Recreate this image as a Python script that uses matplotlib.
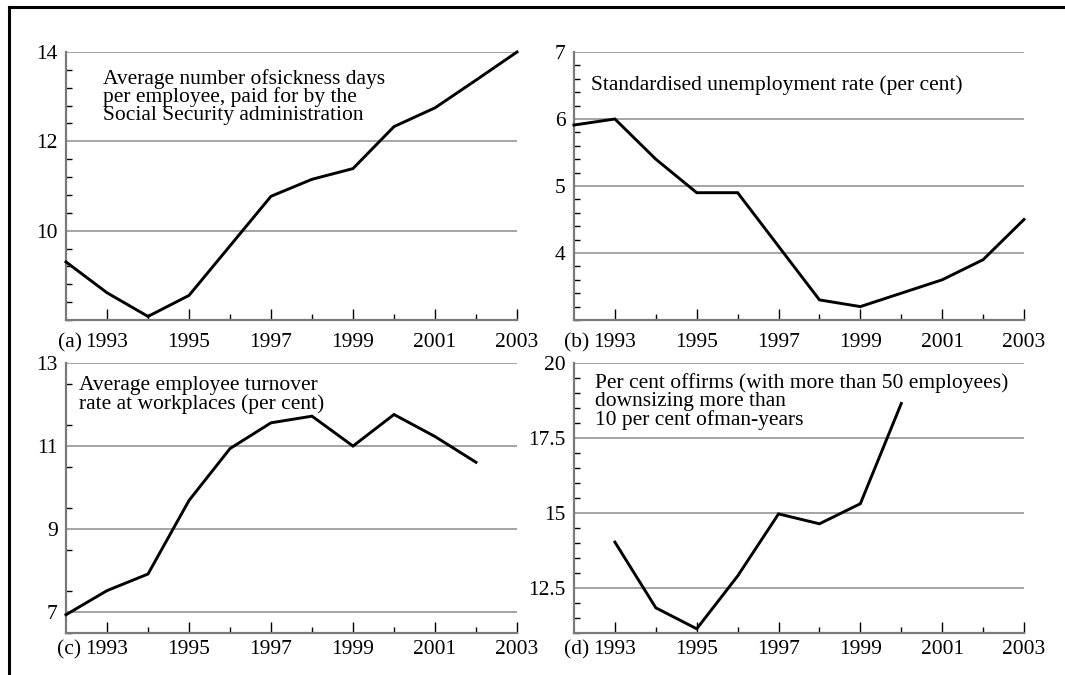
import matplotlib
matplotlib.use("Agg")
import matplotlib.pyplot as plt
from matplotlib.lines import Line2D
from matplotlib.ticker import FixedLocator, FuncFormatter
from matplotlib import transforms
import numpy as np

plt.rcParams['font.family'] = ['Liberation Serif', 'DejaVu Serif']

# ---- data ----
years_a = [1992, 1993, 1994, 1995, 1996, 1997, 1998, 1999, 2000, 2001, 2002, 2003]
sickness_days = [9.3, 8.61, 8.08, 8.55, 9.66, 10.77, 11.15, 11.39, 12.33, 12.75, 13.37, 14.0]

years_b = [1992, 1993, 1994, 1995, 1996, 1997, 1998, 1999, 2000, 2001, 2002, 2003]
unemployment = [5.91, 6.0, 5.4, 4.9, 4.9, 4.1, 3.3, 3.2, 3.4, 3.6, 3.9, 4.5]

years_c = [1992, 1993, 1994, 1995, 1996, 1997, 1998, 1999, 2000, 2001, 2002]
turnover = [6.94, 7.52, 7.92, 9.69, 10.94, 11.56, 11.72, 11.0, 11.76, 11.23, 10.61]

years_d = [1993, 1994, 1995, 1996, 1997, 1998, 1999, 2000]
downsizing = [14.03, 11.84, 11.14, 12.9, 14.97, 14.64, 15.31, 18.65]

titles = [
    "Average number ofsickness days\nper employee, paid for by the\nSocial Security administration",
    "Standardised unemployment rate (per cent)",
    "Average employee turnover\nrate at workplaces (per cent)",
    "Per cent offirms (with more than 50 employees)\ndownsizing more than\n10 per cent ofman-years",
]
panel_tags = ["(a)", "(b)", "(c)", "(d)"]
year_ticks = [1993, 1995, 1997, 1999, 2001, 2003]
minor_years = [1994, 1996, 1998, 2000, 2002]

W, H = 1065, 675
fig = plt.figure(figsize=(W / 100, H / 100), dpi=100)

def px_axes(x0, x1, ytop, ybot):
    return fig.add_axes([x0 / W, 1 - ybot / H, (x1 - x0) / W, (ybot - ytop) / H])

axes = [
    px_axes(66, 517, 52, 320),
    px_axes(574, 1024, 52, 320),
    px_axes(66, 517, 363, 633),
    px_axes(574, 1024, 363, 633),
]

series = [(years_a, sickness_days), (years_b, unemployment), (years_c, turnover), (years_d, downsizing)]
ylims = [(8, 14), (3, 7), (6.5, 13), (11, 20)]
ymajors = [[10, 12, 14], [4, 5, 6, 7], [7, 9, 11, 13], [12.5, 15, 17.5, 20]]
yminor_step = [0.4, 0.2, 1.0, 0.5]
text_pos = [(0.082, 0.935), (0.038, 0.915), (0.029, 0.952), (0.047, 0.962)]
text_ls = [0.88, 0.9, 0.92, 0.92]
xpad = [9.4, 9.4, 5.4, 5.4]
FS = 15.5
spine_col = '#7a7a7a'
grid_col = '#8c8c8c'

for i, ax in enumerate(axes):
    xs, ys = series[i]
    ax.plot(xs, ys, color='black', lw=2.1, solid_joinstyle='miter', zorder=3, clip_on=False)
    ax.set_xlim(1992, 2003)
    ax.set_ylim(*ylims[i])
    for y in ymajors[i]:
        ax.axhline(y, color=grid_col, lw=1.1, zorder=1)
    ax.spines['top'].set_visible(False)
    ax.spines['right'].set_visible(False)
    for s in ('left', 'bottom'):
        ax.spines[s].set_color(spine_col)
        ax.spines[s].set_linewidth(1.6)
    ax.xaxis.set_major_locator(FixedLocator(year_ticks))
    ax.xaxis.set_minor_locator(FixedLocator(minor_years))
    ax.yaxis.set_major_locator(FixedLocator(ymajors[i]))
    lo, hi = ylims[i]
    mins = np.arange(lo, hi + 1e-9, yminor_step[i])
    ax.yaxis.set_minor_locator(FixedLocator(list(mins)))
    ax.yaxis.set_major_formatter(FuncFormatter(lambda v, p: ('%g' % v)))
    ax.tick_params(axis='x', which='major', direction='in', length=8, width=1.0, color='black',
                   labelsize=FS, pad=xpad[i])
    ax.tick_params(axis='x', which='minor', direction='in', length=4, width=1.0, color='black')
    ax.tick_params(axis='y', which='major', direction='in', length=0, labelsize=FS, pad=6)
    ax.tick_params(axis='y', which='minor', direction='in', length=4, width=1.0, color='black')
    ax.set_facecolor('none')
    ax.text(text_pos[i][0], text_pos[i][1], titles[i], transform=ax.transAxes, ha='left', va='top',
            fontsize=FS, linespacing=text_ls[i], zorder=4)
    tag_tr = transforms.offset_copy(ax.get_xaxis_transform(), fig=fig, x=0, y=-xpad[i], units='points')
    ax.text(1992.38, 0, panel_tags[i], transform=tag_tr, ha='right', va='top', fontsize=FS)

# figure frame (top and left)
fig.add_artist(Line2D([9 / W, 1.0], [1 - 7 / H, 1 - 7 / H], color='black', lw=2.2, transform=fig.transFigure))
fig.add_artist(Line2D([9 / W, 9 / W], [1 - 7 / H, 0.0], color='black', lw=2.2, transform=fig.transFigure))

fig.savefig('out.png', dpi=100, facecolor='white')
